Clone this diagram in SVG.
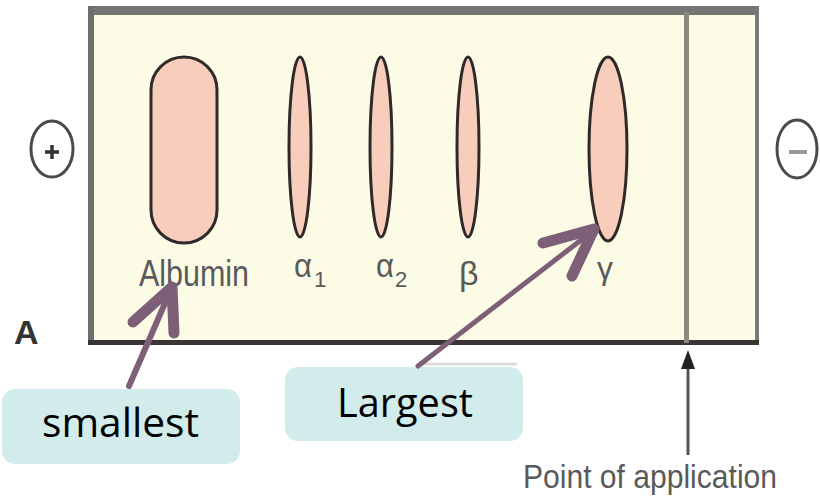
<svg xmlns="http://www.w3.org/2000/svg" width="820" height="499" viewBox="0 0 820 499">
<style>
.band{fill:#F9CDBB;stroke:#2f2a2a;stroke-width:3}
.lbl{font-family:"Liberation Sans",Arial,sans-serif;fill:#5a5a5a}
.call{fill:#D2ECEC}
.ctext{font-family:"Open Sans","Noto Sans",sans-serif;font-size:40px;fill:#000}
.purple{stroke:#7D5F78;fill:none;stroke-linecap:round;stroke-linejoin:round}
</style>
<rect width="820" height="499" fill="#fff"/>
<g id="gel">
<rect x="91" y="10" width="666" height="333" fill="#FCFCE6"/>
<rect x="88" y="6" width="671" height="9" fill="#757575"/>
<rect x="88" y="6" width="6" height="339" fill="#6e6e6e"/>
<rect x="755" y="6" width="4" height="339" fill="#7a7a7a"/>
<rect x="88" y="340" width="671" height="5" fill="#3a3535"/>
<rect x="684" y="12" width="5" height="331" fill="#8a8a80"/>
</g>
<g id="albumin"><rect class="band" x="151" y="57" width="66" height="186" rx="33"/>
<text class="lbl" x="139" y="286" font-size="37" textLength="110" lengthAdjust="spacingAndGlyphs">Albumin</text></g>
<g id="alpha1"><ellipse class="band" cx="300" cy="147" rx="11" ry="90"/>
<text class="lbl" x="294" y="277" font-size="34" textLength="18" lengthAdjust="spacingAndGlyphs">α</text><text class="lbl" x="314" y="287" font-size="22">1</text></g>
<g id="alpha2"><ellipse class="band" cx="381" cy="147" rx="11" ry="90"/>
<text class="lbl" x="376" y="277" font-size="34" textLength="18" lengthAdjust="spacingAndGlyphs">α</text><text class="lbl" x="395" y="287" font-size="22">2</text></g>
<g id="beta"><ellipse class="band" cx="468" cy="147" rx="11" ry="90"/>
<text class="lbl" x="459" y="285" font-size="34">β</text></g>
<g id="gamma"><ellipse class="band" cx="608" cy="149" rx="19" ry="92"/>
<text class="lbl" x="597" y="279" font-size="32">γ</text></g>
<g id="plus"><ellipse cx="52" cy="149" rx="21" ry="28" fill="#fff" stroke="#4a4a4a" stroke-width="3"/>
<path d="M45 152h14M52 145v14" stroke="#333" stroke-width="3.5"/></g>
<g id="minus"><ellipse cx="797" cy="149" rx="20" ry="29" fill="#fff" stroke="#4a4a4a" stroke-width="3"/>
<path d="M789 152h18" stroke="#999" stroke-width="4"/></g>
<g id="labelA"><text x="14" y="344" font-family="Liberation Sans,Arial,sans-serif" font-weight="bold" font-size="34" fill="#333">A</text></g>
<g id="smallest"><rect class="call" x="2" y="389" width="238" height="75" rx="13"/>
<text class="ctext" x="42" y="437" textLength="157" lengthAdjust="spacingAndGlyphs">smallest</text></g>
<g id="largest"><path d="M419 364H517" stroke="#dcdcdc" stroke-width="3"/>
<rect class="call" x="285" y="367" width="238" height="74" rx="13"/>
<text class="ctext" x="337" y="417" textLength="136" lengthAdjust="spacingAndGlyphs">Largest</text></g>
<g id="point"><text class="lbl" x="523" y="488" font-size="33" textLength="254" lengthAdjust="spacingAndGlyphs">Point of application</text></g>
<g id="connectors">
<path class="purple" d="M129 386L172 287" stroke-width="6"/>
<path class="purple" d="M133 322L172 287L174 333" stroke-width="11"/>
<path class="purple" d="M418 366L594 230" stroke-width="5"/>
<path class="purple" d="M543 243L594 229L572 276" stroke-width="11"/>
<path d="M688 455V366" stroke="#555" stroke-width="3"/>
<path d="M681 369L688 350L695 369Z" fill="#222"/>
</g>
</svg>
